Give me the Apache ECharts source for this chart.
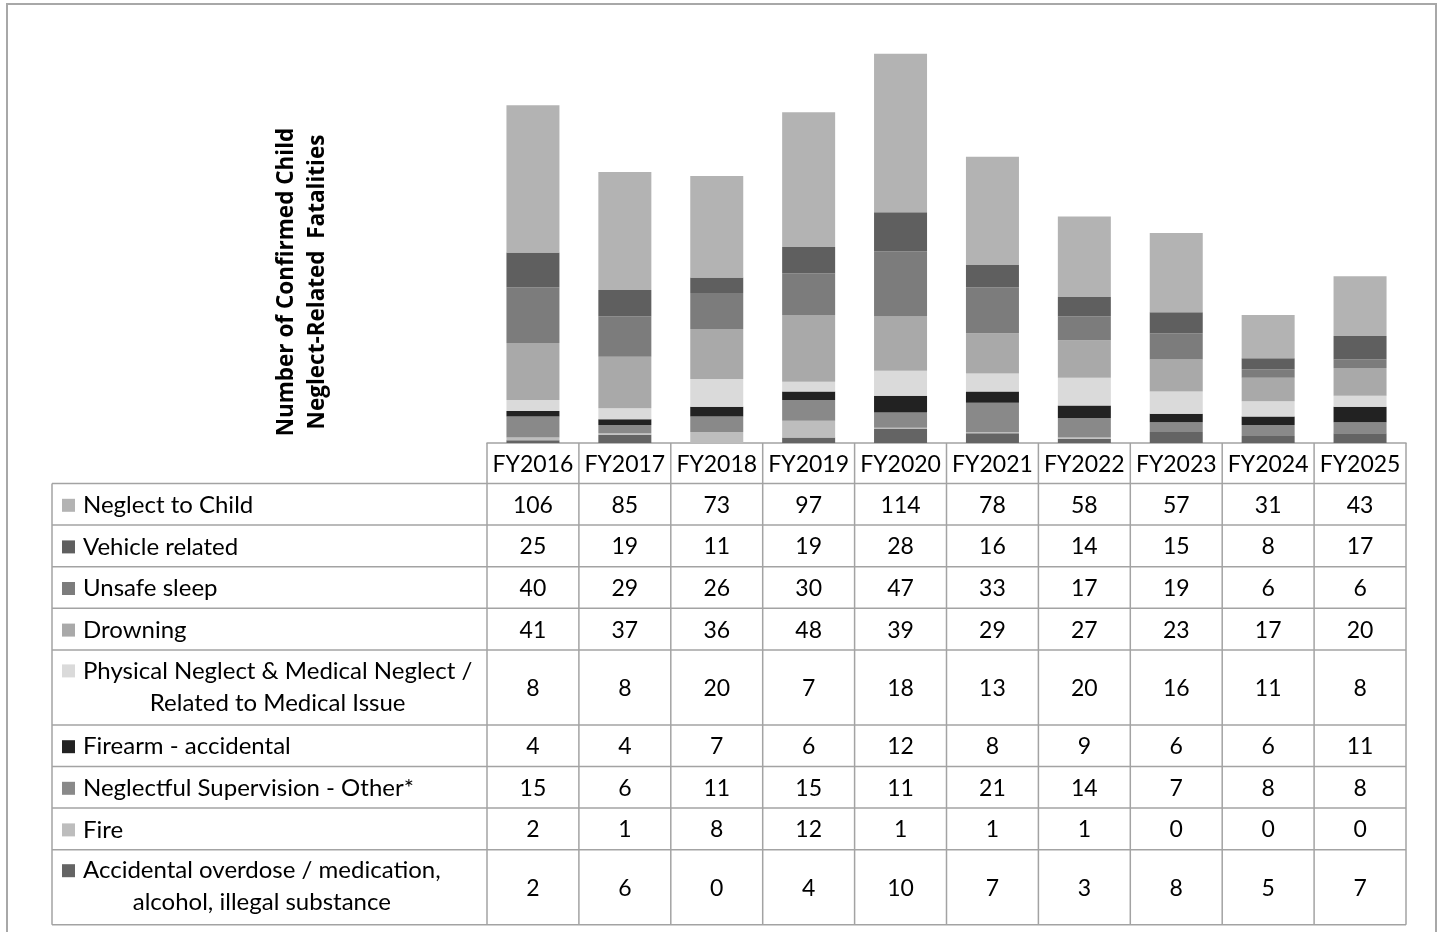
<!DOCTYPE html>
<html>
<head>
<meta charset="utf-8">
<script src="https://cdn.jsdelivr.net/npm/echarts@6/dist/echarts.min.js"></script>
<style>
  html, body { margin: 0; padding: 0; background: #ffffff; }
  #chart { width: 1441px; height: 932px; }
</style>
</head>
<body>
<div id="chart"></div>
<script>
// Fiscal years (columns)
const years = ['FY2016', 'FY2017', 'FY2018', 'FY2019', 'FY2020', 'FY2021', 'FY2022', 'FY2023', 'FY2024', 'FY2025'];

// Fatality counts by category
const neglectToChild   = [106, 85, 73, 97, 114, 78, 58, 57, 31, 43];
const vehicleRelated   = [25, 19, 11, 19, 28, 16, 14, 15, 8, 17];
const unsafeSleep      = [40, 29, 26, 30, 47, 33, 17, 19, 6, 6];
const drowning         = [41, 37, 36, 48, 39, 29, 27, 23, 17, 20];
const physicalMedical  = [8, 8, 20, 7, 18, 13, 20, 16, 11, 8];
const firearm          = [4, 4, 7, 6, 12, 8, 9, 6, 6, 11];
const supervisionOther = [15, 6, 11, 15, 11, 21, 14, 7, 8, 8];
const fire             = [2, 1, 8, 12, 1, 1, 1, 0, 0, 0];
const overdose         = [2, 6, 0, 4, 10, 7, 3, 8, 5, 7];

// Category labels (table order, top to bottom)
const categoryLabels = [
  ['Neglect to Child'],
  ['Vehicle related'],
  ['Unsafe sleep'],
  ['Drowning'],
  ['Physical Neglect & Medical Neglect /', 'Related to Medical Issue'],
  ['Firearm - accidental'],
  ['Neglectful Supervision - Other*'],
  ['Fire'],
  ['Accidental overdose / medication,', 'alcohol, illegal substance']
];

const axisTitle = ['Number of Confirmed Child', 'Neglect-Related  Fatalities'];

const rows = [
  { data: neglectToChild,   color: '#b3b3b3' },
  { data: vehicleRelated,   color: '#5f5f5f' },
  { data: unsafeSleep,      color: '#7c7c7c' },
  { data: drowning,         color: '#a9a9a9' },
  { data: physicalMedical,  color: '#dadada' },
  { data: firearm,          color: '#222222' },
  { data: supervisionOther, color: '#898989' },
  { data: fire,             color: '#bdbdbd' },
  { data: overdose,         color: '#646464' }
];

const FAMILY = 'Lato, "Liberation Sans", sans-serif';
const TITLE_FAMILY = '"Open Sans", "Noto Sans", sans-serif';
const LABEL_SIZE = 24;
const CELL_SIZE = 23;
const LINE = '#a3a3a3';

const chart = echarts.init(document.getElementById('chart'), null, { renderer: 'canvas' });

// Bottom of the stack is the last table row
const series = rows.slice().reverse().map((r, i) => ({
  name: categoryLabels[rows.length - 1 - i].join(' '),
  type: 'bar',
  stack: 'total',
  barWidth: 53,
  itemStyle: { color: r.color },
  emphasis: { disabled: true },
  data: r.data
}));

chart.setOption({
  animation: false,
  backgroundColor: '#ffffff',
  grid: { left: 487, right: 35, top: 26, bottom: 489 },
  xAxis: {
    type: 'category',
    data: years,
    axisLine: { show: true, lineStyle: { color: LINE, width: 1.5 } },
    axisTick: { show: false },
    axisLabel: { show: false }
  },
  yAxis: {
    type: 'value',
    min: 0,
    max: 300,
    show: false,
    splitLine: { show: false }
  },
  series: series
});

// Data table beneath the plot, positioned from the category axis
function buildTable() {
  const centers = years.map((y, i) => chart.convertToPixel({ xAxisIndex: 0 }, i));
  const colW = centers[1] - centers[0];
  const tableLeft = centers[0] - colW / 2;
  const tableRight = centers[centers.length - 1] + colW / 2;
  const headerTop = chart.convertToPixel({ yAxisIndex: 0 }, 0);
  const headerBottom = headerTop + 40.5;
  const labelLeft = 52;

  const rowHeights = categoryLabels.map(l => l.length > 1 ? 75 : 41.6);
  const rowTops = [];
  let y = headerBottom;
  rowHeights.forEach(h => { rowTops.push(y); y += h; });
  const tableBottom = y;

  const ctx = document.createElement('canvas').getContext('2d');
  ctx.font = LABEL_SIZE + 'px ' + FAMILY;

  const els = [];
  const line = (x1, y1, x2, y2) => els.push({
    type: 'line', silent: true,
    shape: { x1, y1, x2, y2 },
    style: { stroke: LINE, lineWidth: 1.5 }
  });
  const text = (x, yy, str, size, align) => els.push({
    type: 'text', silent: true,
    style: {
      x, y: yy, text: str, fill: '#000',
      fontFamily: FAMILY, fontSize: size,
      align, verticalAlign: 'middle'
    }
  });

  // outer chart border
  els.push({
    type: 'rect', silent: true,
    shape: { x: 7, y: 4, width: 1429, height: 1000 },
    style: { fill: null, stroke: '#a8a8a8', lineWidth: 2 }
  });

  // horizontal rules
  [headerBottom].concat(rowTops.slice(1), [tableBottom]).forEach(yy => line(labelLeft, yy, tableRight, yy));
  // vertical rules
  line(labelLeft, headerBottom, labelLeft, tableBottom);
  for (let i = 0; i <= years.length; i++) {
    const xx = tableLeft + i * colW;
    line(xx, headerTop, xx, tableBottom);
  }

  // header labels
  years.forEach((yr, i) => text(centers[i], (headerTop + headerBottom) / 2 + 1, yr, CELL_SIZE, 'center'));

  rows.forEach((r, ri) => {
    const top = rowTops[ri];
    const h = rowHeights[ri];
    const lines = categoryLabels[ri];
    const firstY = lines.length > 1 ? top + 21 : top + h / 2 + 1;

    // legend swatch
    els.push({
      type: 'rect', silent: true,
      shape: { x: 62, y: firstY - 6.5, width: 13, height: 13 },
      style: { fill: r.color }
    });

    // category name, extra lines centred under the first
    text(83, firstY, lines[0], LABEL_SIZE, 'left');
    if (lines.length > 1) {
      const w = ctx.measureText(lines[0]).width;
      text(83 + w / 2, firstY + 32, lines[1], LABEL_SIZE, 'center');
    }

    // values
    r.data.forEach((v, i) => text(centers[i], top + h / 2 + 1, String(v), CELL_SIZE, 'center'));
  });

  // rotated value-axis title
  els.push({
    type: 'text', silent: true,
    x: 302, y: 282, rotation: Math.PI / 2,
    style: {
      text: axisTitle.join('\n'), fill: '#000',
      fontFamily: TITLE_FAMILY, fontSize: 22.5, fontWeight: 'bold',
      align: 'center', verticalAlign: 'middle',
      lineHeight: 31
    }
  });

  chart.setOption({ graphic: { elements: els } });
}

buildTable();
</script>
</body>
</html>
